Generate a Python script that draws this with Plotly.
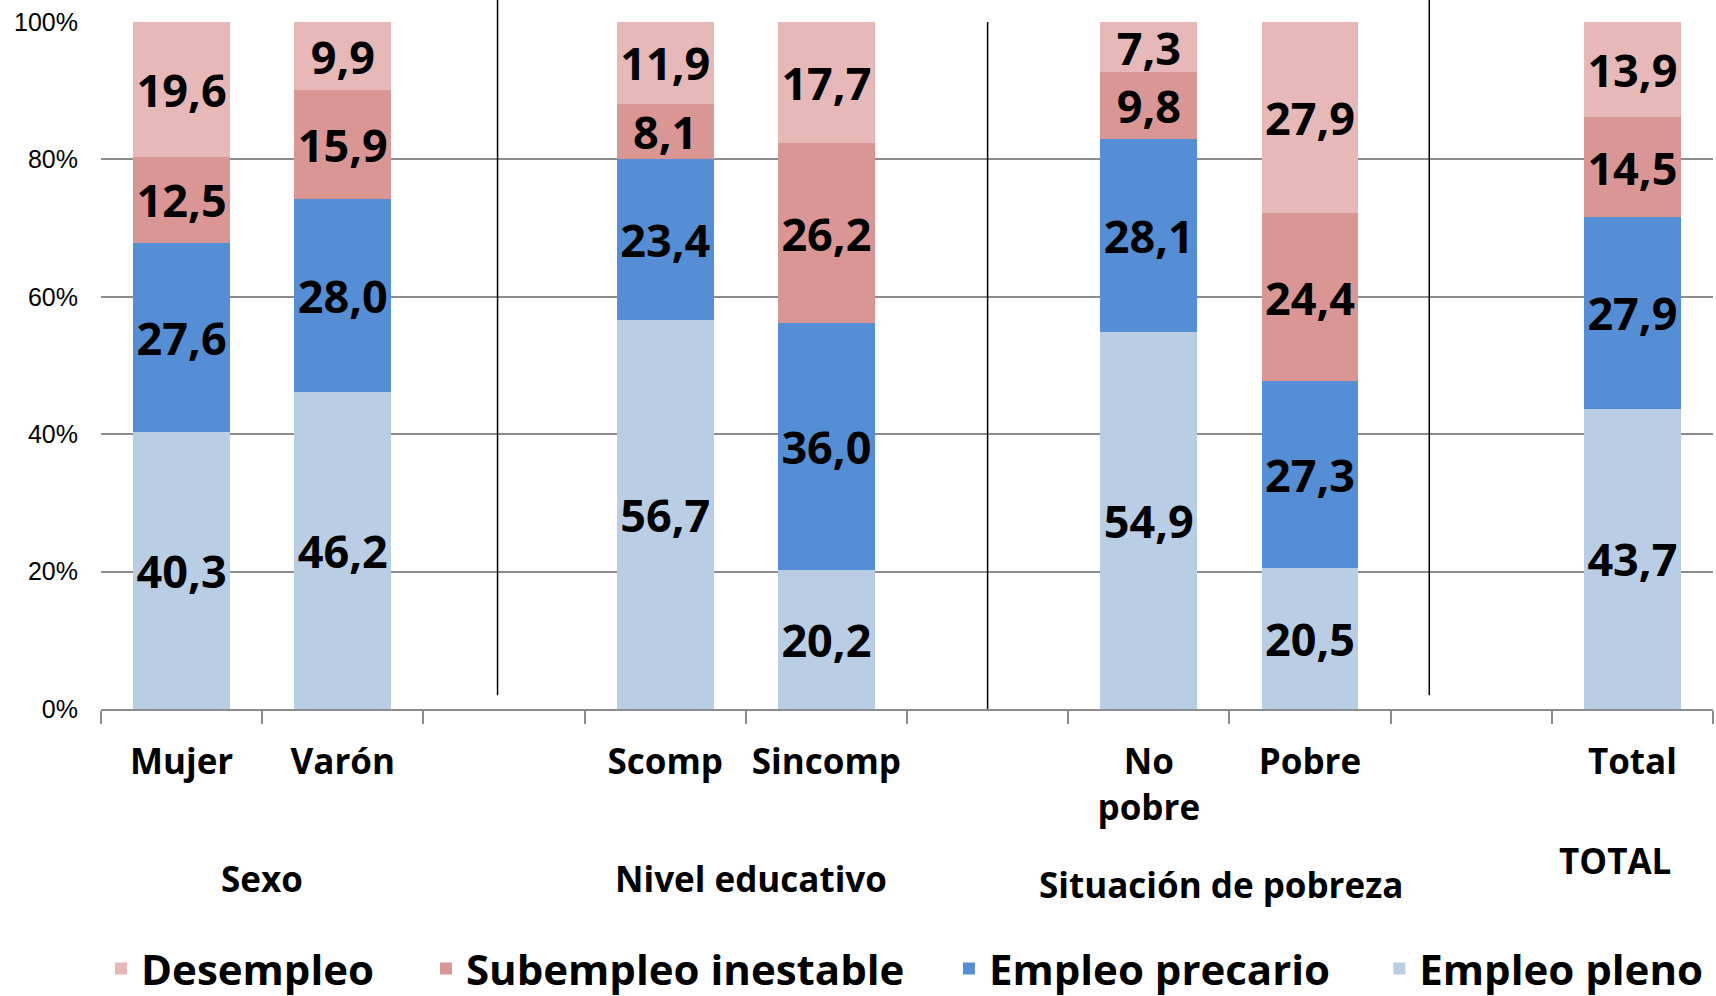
import plotly.graph_objects as go

# Categorias del eje x (las vacias separan los grupos)
categorias = ["Mujer", "Varón", " ", "Scomp", "Sincomp", "  ", "No<br>pobre", "Pobre", "   ", "Total"]

# Valores (%) de cada serie
empleo_pleno = [40.3, 46.2, None, 56.7, 20.2, None, 54.9, 20.5, None, 43.7]
empleo_precario = [27.6, 28.0, None, 23.4, 36.0, None, 28.1, 27.3, None, 27.9]
subempleo_inestable = [12.5, 15.9, None, 8.1, 26.2, None, 9.8, 24.4, None, 14.5]
desempleo = [19.6, 9.9, None, 11.9, 17.7, None, 7.3, 27.9, None, 13.9]

grupos = ["Sexo", "Nivel educativo", "Situación de pobreza", "TOTAL"]
ticks_y = [0, 20, 40, 60, 80, 100]

FONT = "Open Sans"


def etiquetas(valores):
    return ["" if v is None else f"{v:.1f}".replace(".", ",") for v in valores]


# nombre, valores, color, leyenda, posicion x de la leyenda
series = [
    ("Empleo pleno", empleo_pleno, "#B9CDE5", "legend4", 0.793),
    ("Empleo precario", empleo_precario, "#558ED5", "legend3", 0.526),
    ("Subempleo inestable", subempleo_inestable, "#DA9694", "legend2", 0.2016),
    ("Desempleo", desempleo, "#E6B8B7", "legend", 0.0),
]

fig = go.Figure()
leyendas = {}
for nombre, valores, color, ley, lx in series:
    fig.add_trace(go.Bar(
        x=categorias,
        y=valores,
        name=nombre,
        legend=ley,
        showlegend=True,
        marker=dict(color=color, line=dict(width=0)),
        text=etiquetas(valores),
        textposition="inside",
        insidetextanchor="middle",
        textangle=0,
        constraintext="none",
        textfont=dict(family=FONT, size=45, color="black", weight="bold"),
        hoverinfo="skip",
    ))
    leyendas[ley] = dict(
        orientation="h",
        x=lx, xanchor="left",
        y=-0.378, yanchor="middle",
        bgcolor="rgba(0,0,0,0)",
        font=dict(family=FONT, size=42, color="black", weight="bold"),
    )

fig.update_layout(
    width=1716,
    height=996,
    showlegend=True,
    barmode="stack",
    barnorm="percent",
    bargap=0.4,
    plot_bgcolor="white",
    paper_bgcolor="white",
    margin=dict(l=101, r=3, t=22, b=287, autoexpand=False),
    **leyendas,
)

# Eje x: marcas en los limites de categoria
fig.update_xaxes(
    type="category",
    showgrid=False,
    showline=True, linecolor="#8C8C8C", linewidth=2,
    ticks="outside", tickson="boundaries", ticklen=13, tickwidth=2, tickcolor="#8C8C8C",
    tickfont=dict(family=FONT, size=35, color="black", weight="bold"),
    ticklabelstandoff=21,
)

# Eje y en porcentaje
fig.update_yaxes(
    range=[0, 100],
    tickmode="array",
    tickvals=ticks_y,
    ticktext=[f"{t}%" for t in ticks_y],
    showgrid=True, gridcolor="#8C8C8C", gridwidth=2,
    zeroline=False,
    showline=False,
    tickfont=dict(family="Liberation Sans", size=25, color="black"),
    ticklabelstandoff=22,
)

# Lineas separadoras entre grupos
separadores = [(1.96, 0.02, 1.032), (5.0, 0.0, 1.0), (7.74, 0.02, 1.032)]
for xs, y0, y1 in separadores:
    fig.add_shape(type="line", xref="x", yref="paper",
                  x0=xs, x1=xs, y0=y0, y1=y1,
                  line=dict(color="black", width=1.5))

# Titulos de grupo
pos_grupos = [(0.5, -0.246), (3.53, -0.246), (6.45, -0.255), (8.89, -0.221)]
for texto, (gx, gy) in zip(grupos, pos_grupos):
    fig.add_annotation(text=texto, xref="x", yref="paper", x=gx, y=gy,
                       showarrow=False, xanchor="center", yanchor="middle",
                       font=dict(family=FONT, size=35, color="black", weight="bold"))

# sin margen del body para que la figura ocupe toda la ventana
fig.write_html("out.html", config={"displayModeBar": False},
               post_script="document.body.style.margin = '0';")
